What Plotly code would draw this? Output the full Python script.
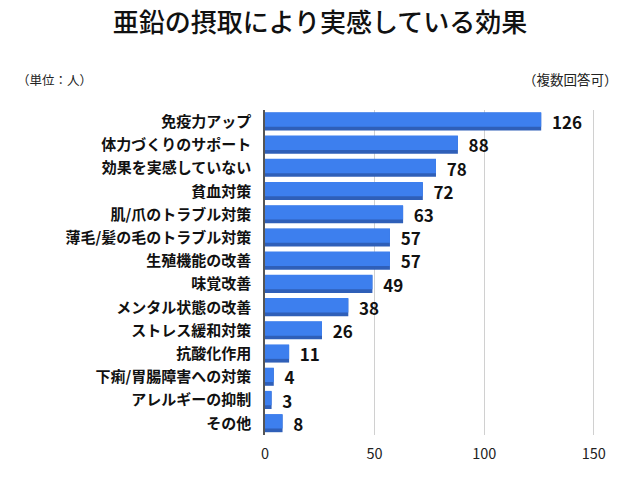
import plotly.graph_objects as go

categories = ["免疫力アップ", "体力づくりのサポート", "効果を実感していない", "貧血対策",
              "肌/爪のトラブル対策", "薄毛/髪の毛のトラブル対策", "生殖機能の改善", "味覚改善",
              "メンタル状態の改善", "ストレス緩和対策", "抗酸化作用", "下痢/胃腸障害への対策",
              "アレルギーの抑制", "その他"]
values = [126, 88, 78, 72, 63, 57, 57, 49, 38, 26, 11, 4, 3, 8]
tick_vals = [0, 50, 100, 150]

FONT = "Noto Sans CJK JP"

fig = go.Figure()
# darker "3D" edge
fig.add_trace(go.Bar(
    y=categories, x=values, orientation="h",
    marker=dict(color="#2f5fb8", line=dict(width=0)),
    width=0.76, offset=-0.38, hoverinfo="skip",
    texttemplate="\u00a0\u00a0%{x}", textposition="outside",
    constraintext="none",
    textfont=dict(family=FONT, size=17, color="#111111", weight="bold"),
    cliponaxis=False,
))
# main face
fig.add_trace(go.Bar(
    y=categories, x=values, orientation="h",
    marker=dict(color="#3d7fee", line=dict(width=0)),
    width=0.62, offset=-0.40,
))

fig.update_layout(
    width=640, height=479,
    margin=dict(l=265, r=44, t=110, b=44),
    paper_bgcolor="white", plot_bgcolor="white",
    barmode="overlay", showlegend=False,
    title=dict(text="亜鉛の摂取により実感している効果", x=0.5, xanchor="center",
               y=0.952, yanchor="middle",
               font=dict(family=FONT, size=26, color="#111111", weight=500)),
    xaxis=dict(range=[0, 151], tickvals=tick_vals, showgrid=True,
               gridcolor="#d0d0d0", gridwidth=1, zeroline=False,
               showline=False, ticks="", ticklabelstandoff=8,
               tickfont=dict(family=FONT, size=14.5, color="#222222")),
    yaxis=dict(autorange="reversed", showgrid=False, ticks="",
               showline=True, linecolor="#555555", linewidth=1.5,
               ticklabelstandoff=9,
               tickfont=dict(family=FONT, size=15, color="#111111", weight="bold")),
    annotations=[
        dict(text="（単位：人）", x=15, y=79, xref="paper", yref="paper",
             showarrow=False, xanchor="left", yanchor="middle",
             font=dict(family=FONT, size=12.5, color="#222222")),
        dict(text="（複数回答可）", x=620, y=79, xref="paper", yref="paper",
             showarrow=False, xanchor="right", yanchor="middle",
             font=dict(family=FONT, size=13.5, color="#222222")),
    ],
)
# convert pixel positions for annotations
W, H = 640, 479
l, r, t, b = 265, 44, 110, 44
pw, ph = W - l - r, H - t - b
for a in fig.layout.annotations:
    a.x = (a.x - l) / pw
    a.y = (H - b - a.y) / ph

fig.write_html("out.html")
